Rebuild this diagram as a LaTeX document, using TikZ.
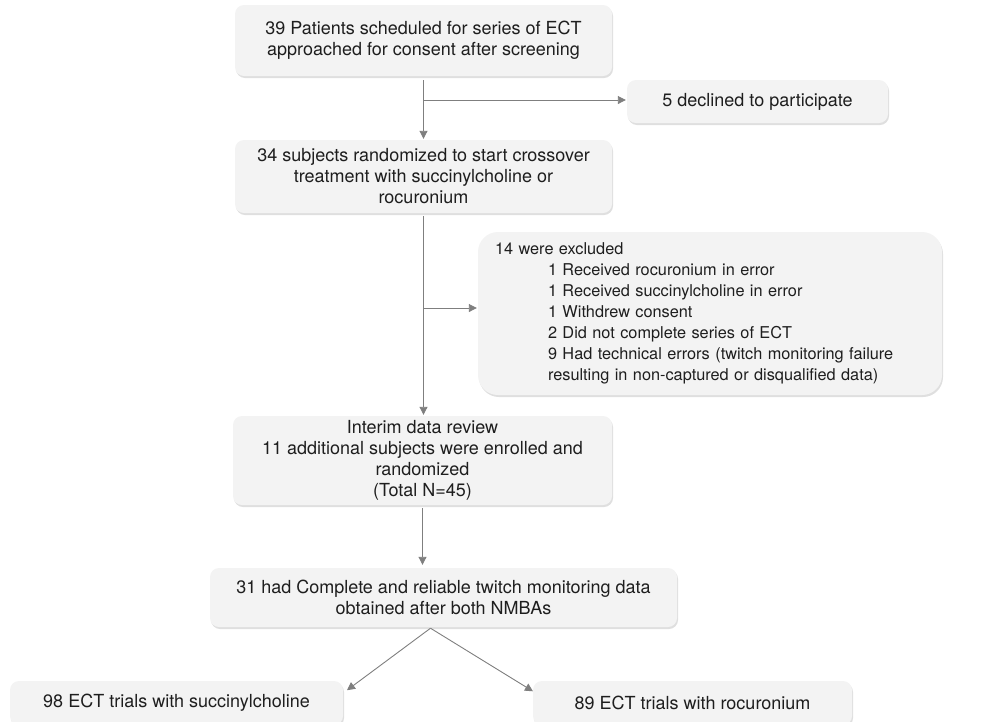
\documentclass[tikz,border=0pt]{standalone}
\usepackage{fontspec}
\setmainfont{TeX Gyre Heros}
\usetikzlibrary{shadows,arrows.meta,calc}
\definecolor{boxfill}{HTML}{F3F3F3}
\definecolor{arrgray}{HTML}{7F7F7F}
\definecolor{txt}{HTML}{1E1E1E}
\tikzset{
  flowbox/.style={draw=none, fill=boxfill, rounded corners=9pt, align=center,
    text=txt, font=\fontsize{18}{21}\selectfont, inner sep=0pt,
    drop shadow={opacity=0.25, shadow xshift=1pt, shadow yshift=-2pt}},
  arr/.style={draw=arrgray, line width=0.9pt, -{Triangle[length=8pt,width=8pt]}, shorten >=1pt},
}
\begin{document}
\begin{tikzpicture}[x=1pt,y=-1pt]
\useasboundingbox (0,0) rectangle (984,721);
\node[flowbox, minimum width=377pt, minimum height=71pt] (b1) at (423.5,40.5)
  {39 Patients scheduled for series of ECT\\approached for consent after screening};
\node[flowbox, minimum width=261pt, minimum height=43pt] (dec) at (757.5,101.5)
  {5 declined to participate};
\node[flowbox, minimum width=377pt, minimum height=73pt] (b2) at (423.5,176.5)
  {34 subjects randomized to start crossover\\treatment with succinylcholine or\\rocuronium};
\node[flowbox, rounded corners=20pt, minimum width=464pt, minimum height=163pt, align=left, text width=430pt,
      font=\fontsize{16.3}{21}\selectfont] (ex) at (710,313.5)
  {14 were excluded\\
   \hspace*{53pt}1 Received rocuronium in error\\
   \hspace*{53pt}1 Received succinylcholine in error\\
   \hspace*{53pt}1 Withdrew consent\\
   \hspace*{53pt}2 Did not complete series of ECT\\
   \hspace*{53pt}9 Had technical errors (twitch monitoring failure\\
   \hspace*{53pt}resulting in non-captured or disqualified data)};
\node[flowbox, minimum width=379pt, minimum height=89pt] (b3) at (422.5,460.5)
  {Interim data review\\11 additional subjects were enrolled and\\randomized\\(Total N=45)};
\node[flowbox, minimum width=467pt, minimum height=59pt] (b4) at (443.5,597.5)
  {31 had Complete and reliable twitch monitoring data\\obtained after both NMBAs};
\node[flowbox, minimum width=333pt, minimum height=44pt] (b5) at (176.5,703)
  {98 ECT trials with succinylcholine};
\node[flowbox, minimum width=319pt, minimum height=44pt] (b6) at (692.5,703)
  {89 ECT trials with rocuronium};

\coordinate (t1) at ($(b1.south)+(0,4)$);
\coordinate (j1) at (t1 |- 0,100);
\coordinate (t2) at ($(b2.south)+(0,3)$);
\coordinate (j2) at (t2 |- 0,308);
\coordinate (t4) at ($(b4.south)+(-13,1)$);

\draw[arr] (t1) -- (t1 |- b2.north);
\draw[arr] (j1) -- (j1 -| dec.west);
\draw[arr] (t2) -- (t2 |- b3.north);
\draw[arr] (j2) -- (j2 -| ex.west);
\draw[arr] ($(b3.south)+(0,3)$) -- ($(b3.south |- b4.north)+(0,-2)$);
\draw[arr] (t4) -- ($(b5.north east)+(3,10)$);
\draw[arr] (t4) -- ($(b6.north west)+(1,11)$);
\end{tikzpicture}
\end{document}
